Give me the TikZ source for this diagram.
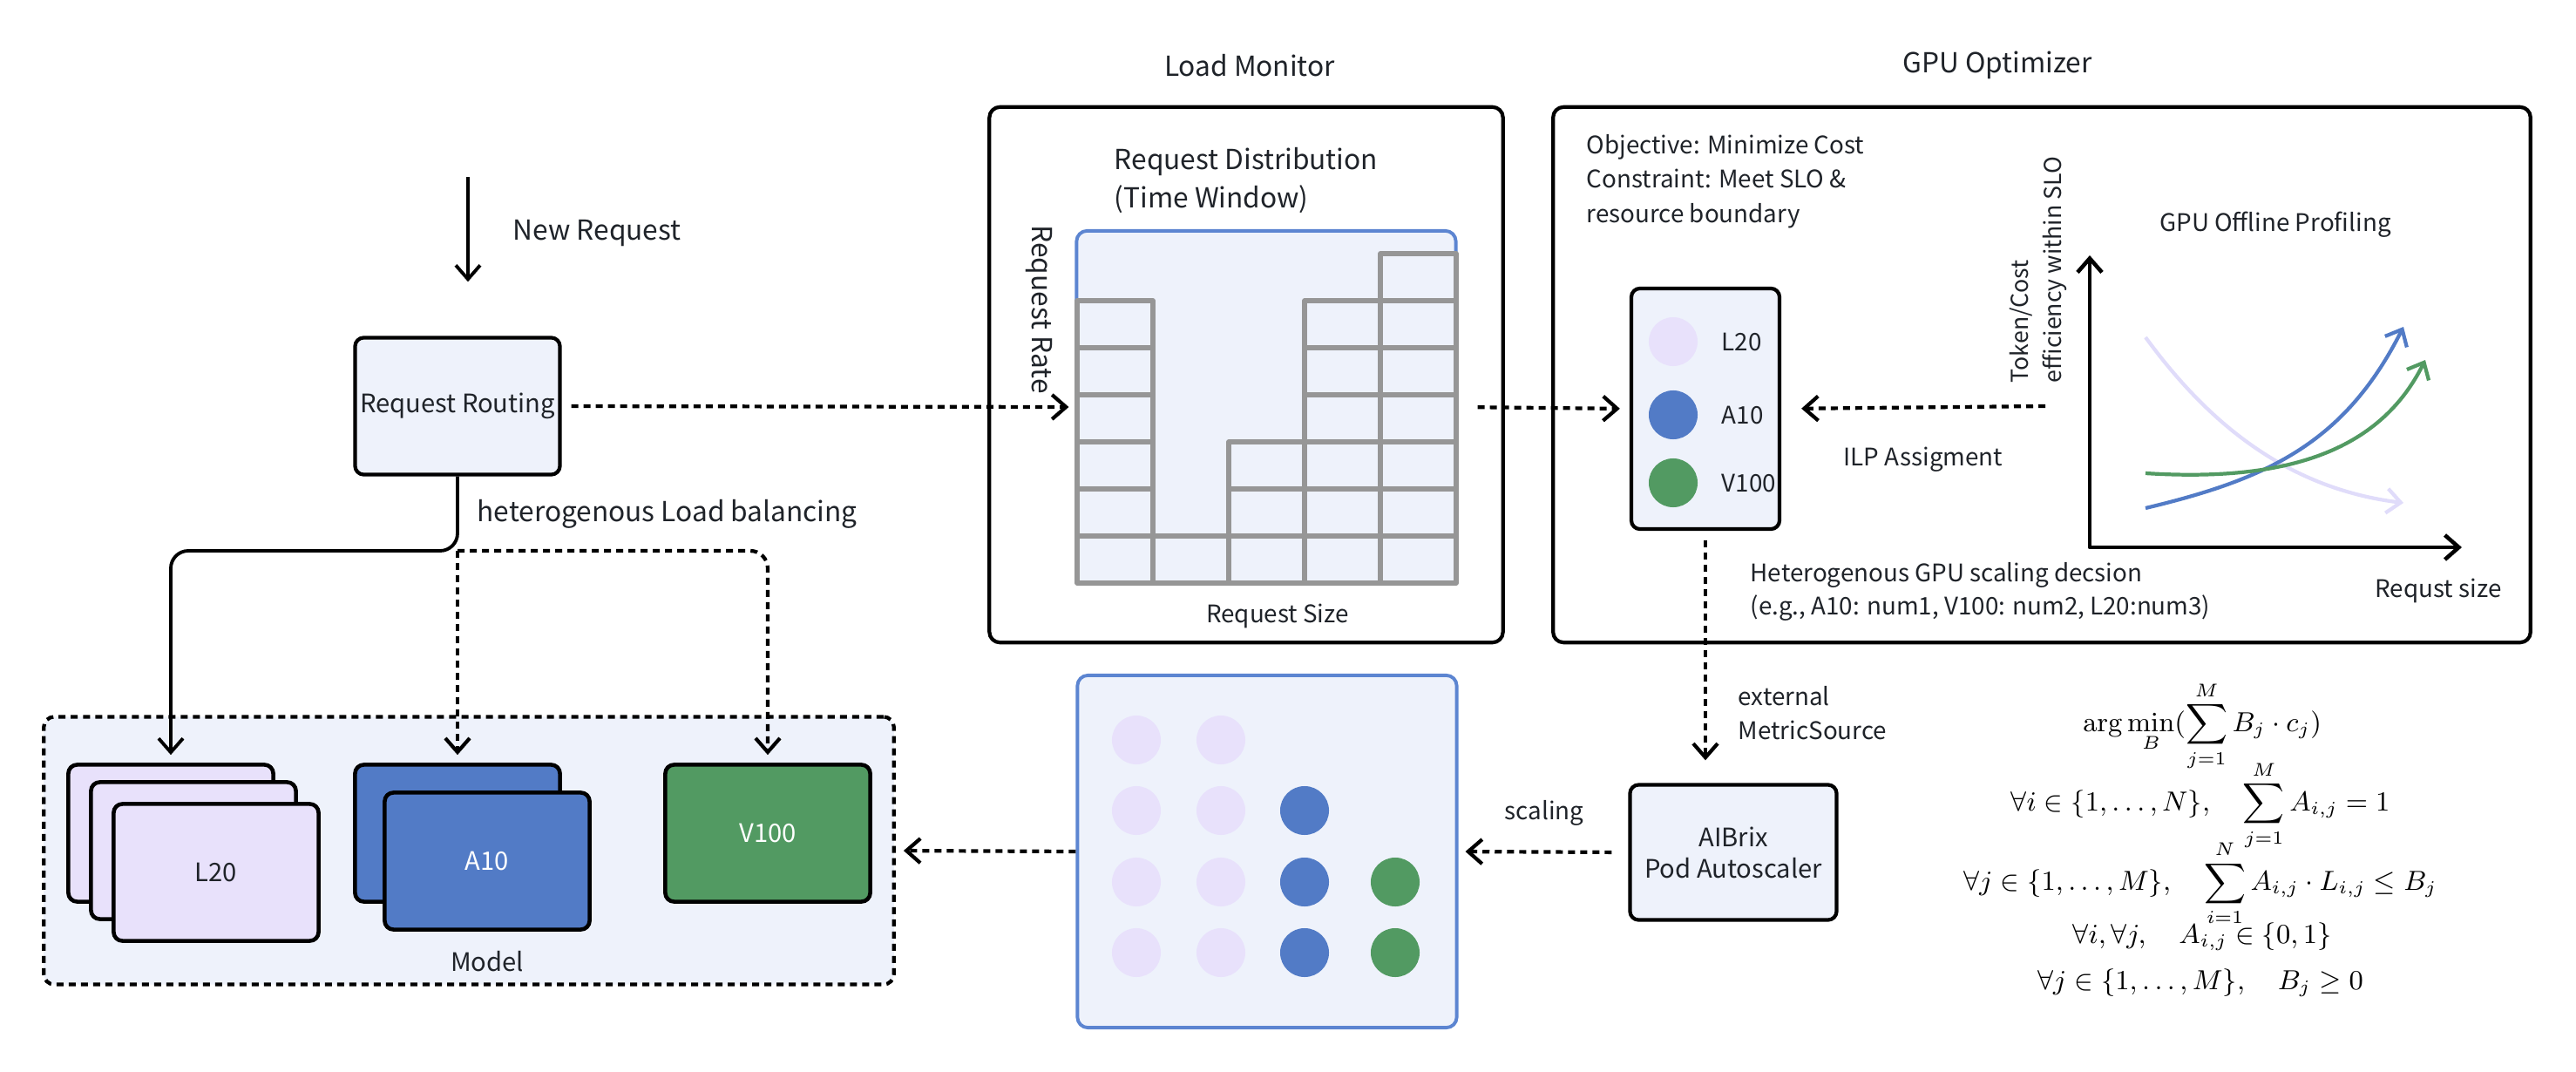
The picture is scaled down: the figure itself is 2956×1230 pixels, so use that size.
\documentclass[tikz,border=0pt]{standalone}
\usepackage{amsmath}
\usepackage{amssymb}
\usepackage[no-math]{fontspec}
\setmainfont{Noto Sans CJK SC}
\usepackage{tikz}
\usetikzlibrary{calc}
\usetikzlibrary{arrows.meta}

\definecolor{bgblue}{RGB}{238,242,251}
\definecolor{lilac}{RGB}{232,225,251}
\definecolor{gpublue}{RGB}{82,123,198}
\definecolor{gpugreen}{RGB}{82,154,98}
\definecolor{frameblue}{RGB}{92,133,209}
\definecolor{bargray}{RGB}{150,150,150}
\definecolor{fadelilac}{RGB}{224,220,250}
\definecolor{ink}{RGB}{31,35,41}

\newcommand{\headtext}{\fontsize{9}{12.5}\selectfont}
\newcommand{\bodytext}{\fontsize{9}{11.5}\selectfont}
\newcommand{\cardtext}{\fontsize{8.3}{10.2}\selectfont}
\newcommand{\notetext}{\fontsize{7.9}{11.3}\selectfont}
\newcommand{\axistext}{\fontsize{7.6}{11}\selectfont}

\tikzset{
    cardbox/.style={draw=black,line width=1.2pt,rounded corners=1mm,fill=bgblue,align=center,font=\cardtext,text=ink,inner sep=0pt},
    gpucard/.style={draw=black,line width=1.3pt,rounded corners=1mm,minimum width=2.35cm,minimum height=1.57cm,font=\cardtext,text=ink},
    panel/.style={draw=black,line width=1.2pt,rounded corners=1.2mm},
    bluepanel/.style={draw=frameblue,line width=1.1pt,fill=bgblue,rounded corners=1.2mm,minimum width=4.35cm,minimum height=4.04cm},
    barcell/.style={draw=bargray,line width=1.5pt,fill=bgblue},
    gpudot/.style={circle,minimum size=5.6mm,inner sep=0pt},
    lbl/.style={text=ink,font=\bodytext,inner sep=2pt},
    note/.style={text=ink,font=\notetext,inner sep=2pt},
    paneltitle/.style={text=ink,font=\headtext},
    mathlbl/.style={text=black,font=\fontsize{9.2}{11}\selectfont,inner sep=0pt},
    dotline/.style={line width=1.2pt,dash pattern=on 0.8mm off 0.6mm},
    thickline/.style={line width=1.1pt},
    axisline/.style={line width=1.3pt},
    profcurve/.style={line width=1.2pt},
}

\begin{document}
\begin{tikzpicture}[x=0.01cm,y=-0.01cm,>={Straight Barb[length=1.6mm,width=2.8mm]},line join=round]
    \useasboundingbox (0,0) rectangle (2956,1230);

    % request entry and routing
    \coordinate (NewReq) at (537,203);
    \node[cardbox,minimum width=2.35cm,minimum height=1.57cm] (routing) at (525,466) {Request Routing};
    \draw[->,thickline,shorten >=6.2mm] (NewReq) -- (NewReq |- routing.north);
    \node[lbl,anchor=west] (newreqlbl) at (581,268) {New Request};

    % model with the gpu cards
    \node[draw=black,dotline,fill=bgblue,rounded corners=1.2mm,minimum width=9.75cm,minimum height=3.07cm] (model) at (538,976) {};
    \node[lbl,font=\cardtext] (modellbl) at (559,1103) {Model};
    \node[gpucard,fill=lilac] (l20a) at (196,956) {};
    \node[gpucard,fill=lilac] (l20b) at (222,976) {};
    \node[gpucard,fill=lilac] (l20c) at (248,1001) {L20};
    \node[gpucard,fill=gpublue] (a10a) at (525,956) {};
    \node[gpucard,fill=gpublue,text=white] (a10b) at (559,988) {A10};
    \node[gpucard,fill=gpugreen,text=white] (v100) at (881,956) {V100};

    \coordinate (Split) at (525,632);
    \draw[->,thickline,rounded corners=2mm,shorten >=0.9mm] (routing.south) -- (Split) -| (l20a.north);
    \draw[->,dotline,shorten >=0.9mm] (Split) -- (a10a.north);
    \draw[->,dotline,rounded corners=2mm,shorten >=0.9mm] (Split) -| (v100.north);
    \node[lbl,anchor=west] (balancelbl) at (540,590) {heterogenous Load balancing};

    % load monitor
    \node[panel,minimum width=5.89cm,minimum height=6.14cm] (monitor) at (1430,430) {};
    \node[paneltitle] (monitortitle) at (1434,75) {Load Monitor};
    \node[bluepanel] (dist) at (1453,467) {};
    \foreach \col/\hgt in {0/6,1/1,2/3,3/6,4/7}
        \foreach \row in {1,...,\hgt}
            \draw[barcell] (1236+\col*87,669-\row*54+54) rectangle ++(87,-54);
    \node[lbl,anchor=west,align=left,font=\headtext] (distlbl) at (1271,207) {Request Distribution\\(Time Window)};
    \node[lbl,rotate=-90] (ratelbl) at (1192,355) {Request Rate};
    \node[note] (sizelbl) at (1466,707) {Request Size};
    \draw[->,dotline,shorten <=1.1mm,shorten >=0.7mm] (routing.east) -- (dist.west);

    % gpu optimizer
    \node[panel,minimum width=11.21cm,minimum height=6.14cm] (optimizer) at (2343,430) {};
    \node[paneltitle] (optimizertitle) at (2292,75) {GPU Optimizer};
    \node[note,anchor=west,align=left] (goallbl) at (1813,208) {Objective: Minimize Cost\\Constraint: Meet SLO \&\\resource boundary};
    \node[cardbox,minimum width=1.7cm,minimum height=2.76cm] (gpulist) at (1957,469) {};
    \node[gpudot,fill=lilac] (dotl20) at (1920,392) {};
    \node[gpudot,fill=gpublue] (dota10) at (1920,476) {};
    \node[gpudot,fill=gpugreen] (dotv100) at (1920,554) {};
    \node[note,anchor=west] (namel20) at (1968,392) {L20};
    \node[note,anchor=west] (namea10) at (1968,476) {A10};
    \node[note,anchor=west] (namev100) at (1968,554) {V100};
    \draw[->,dotline,shorten <=2.3mm,shorten >=1.1mm] (dist.east) -- (gpulist.west);
    \coordinate (IlpStart) at (2347,466);
    \draw[->,dotline,shorten >=2.3mm] (IlpStart) -- (gpulist.east);
    \node[note] (ilplbl) at (2207,527) {ILP Assigment};
    \node[note,anchor=west,align=left,font=\fontsize{7.9}{11}\selectfont] (decisionlbl) at (2001,679) {Heterogenous GPU scaling decsion\\(e.g., A10: num1, V100: num2, L20:num3)};

    % offline profiling plot
    \coordinate (Origin) at (2398,628);
    \coordinate (YTop) at (2398,293);
    \coordinate (XEnd) at (2825,628);
    \draw[<->,axisline] (YTop) -- (Origin) -- (XEnd);
    \node[lbl,rotate=90,anchor=north west,align=left,font=\axistext] (efflbl) at (2298,447) {Token/Cost\\efficiency within SLO};
    \node[note] (proflbl) at (2611,258) {GPU Offline Profiling};
    \node[note] (xlbl) at (2798,678) {Requst size};
    \draw[->,profcurve,draw=fadelilac] (2462,387) .. controls (2530,480) and (2620,560) .. (2758,577);
    \draw[->,profcurve,draw=gpublue] (2462,583) .. controls (2600,550) and (2690,510) .. (2758,375);
    \draw[->,profcurve,draw=gpugreen] (2462,543) .. controls (2620,553) and (2730,520) .. (2783,413);

    % autoscaling
    \node[cardbox,minimum width=2.37cm,minimum height=1.55cm] (autoscaler) at (1989,978) {AIBrix\\Pod Autoscaler};
    \draw[->,dotline,shorten <=1.1mm,shorten >=2.6mm] (gpulist.south) -- (gpulist.south |- autoscaler.north);
    \node[note,anchor=west,align=left] (metriclbl) at (1987,818) {external\\MetricSource};
    \node[bluepanel] (pool) at (1454,977) {};
    \foreach \px/\py/\pc [count=\k] in {1304/849/lilac,1401/849/lilac,
            1304/930/lilac,1401/930/lilac,1497/930/gpublue,
            1304/1012/lilac,1401/1012/lilac,1497/1012/gpublue,1601/1012/gpugreen,
            1304/1093/lilac,1401/1093/lilac,1497/1093/gpublue,1601/1093/gpugreen}
        \node[gpudot,fill=\pc] (pod\k) at (\px,\py) {};
    \draw[->,dotline,shorten <=1.9mm,shorten >=0.8mm] (autoscaler.west) -- (pool.east);
    \node[note] (scalelbl) at (1772,933) {scaling};
    \draw[->,dotline,shorten >=0.9mm] (pool.west) -- (model.east);

    % ilp formulation
    \node[mathlbl] (eq1) at (2527,833) {$\displaystyle\arg\min_{B}(\sum_{j=1}^{M}B_j\cdot c_j)$};
    \node[mathlbl] (eq2) at (2525,924) {$\displaystyle\forall i\in\{1,\ldots,N\},\quad\sum_{j=1}^{M}A_{i,j}=1$};
    \node[mathlbl] (eq3) at (2525,1013) {$\displaystyle\forall j\in\{1,\ldots,M\},\quad\sum_{i=1}^{N}A_{i,j}\cdot L_{i,j}\leq B_j$};
    \node[mathlbl] (eq4) at (2527,1075) {$\forall i,\forall j,\quad A_{i,j}\in\{0,1\}$};
    \node[mathlbl] (eq5) at (2525,1128) {$\forall j\in\{1,\ldots,M\},\quad B_j\geq 0$};
\end{tikzpicture}
\end{document}
